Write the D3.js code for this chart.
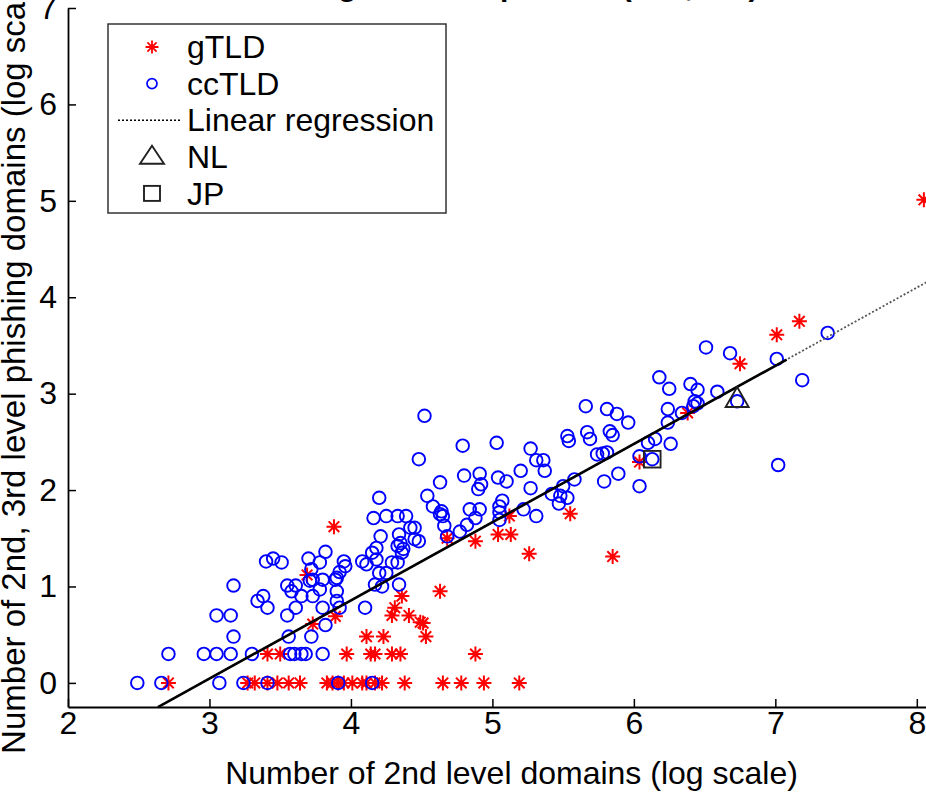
<!DOCTYPE html>
<html><head><meta charset="utf-8">
<script src="https://cdn.jsdelivr.net/npm/d3@7"></script>
<style>
body{margin:0;background:#fff}
svg{display:block}
text{font-family:"Liberation Sans",Arial,Helvetica,sans-serif;fill:#000}
</style>
</head><body>
<svg id="chart" width="926" height="792"></svg>
<script>
// ---------- data ----------
const xTicks = [2,3,4,5,6,7,8];
const yTicks = [0,1,2,3,4,5,6,7];
const titleText = "Registrations per TLD (2nd, 3rd)";
const xLabel = "Number of 2nd level domains (log scale)";
const yLabel = "Number of 2nd, 3rd level phishing domains (log scale)";
const legendLabels = ["gTLD","ccTLD","Linear regression","NL","JP"];

// gTLD (red stars)
const gX = [2.71,3.27,3.32,3.41,3.48,3.56,3.64,3.83,3.87,3.91,3.95,4.01,4.08,4.11,4.17,4.22,4.38,4.65,4.78,4.94,5.19,
  3.41,3.50,3.97,4.14,4.17,4.29,4.35,4.88,
  4.11,4.23,4.53,
  3.88,3.69,4.36,4.31,4.29,4.41,4.49,4.51,3.89,3.73,4.63,4.68,4.88,5.04,5.13,5.12,5.26,5.55,5.85,6.04,6.38,6.75,7.01,7.17,8.05];
const gY = [0,0,0,0,0,0,0,0,0,0,0,0,0,0,0,0,0,0,0,0,0,
  0.30,0.30,0.30,0.30,0.30,0.30,0.30,0.30,
  0.48,0.48,0.48,
  1.62,1.12,0.90,0.78,0.70,0.70,0.63,0.62,0.69,0.61,0.95,1.50,1.47,1.54,1.54,1.73,1.34,1.755,1.31,2.29,2.80,3.31,3.61,3.75,5.01];

// ccTLD (blue circles)
const ccX = [2.49,2.66,3.07,3.24,3.41,3.91,4.15,
  2.71,2.96,3.05,3.15,3.30,3.57,3.60,3.65,3.68,3.80,
  3.17,3.56,3.72, 3.82, 3.05,3.15,3.55,
  3.41,3.61,3.80,3.92,4.10, 3.34,3.90, 3.65,3.73,3.38, 3.58,3.90, 3.78,
  3.17,3.55,3.61,4.22,4.17,4.34, 3.73,3.80,3.89,3.71, 3.90, 3.92,4.20,4.25, 3.72, 3.96, 4.11,
  3.51,3.78,4.29,4.33, 3.40,3.95,4.08, 3.45,3.70, 4.18, 4.15,4.36, 3.82, 4.37, 4.18, 4.33, 4.35,
  4.45,4.48, 4.68, 4.21, 4.34, 4.77, 4.42,4.45, 4.66, 4.82, 5.05, 4.88, 4.16,
  4.25,4.33,4.39,4.65,5.31, 4.63, 5.05, 4.64, 4.84,4.91,5.22, 4.58,5.05, 5.47, 5.07,
  4.20,5.53, 4.54,5.48, 5.42, 4.90, 5.27, 5.50,6.04, 4.92, 4.63, 5.10,5.79, 5.58, 5.04, 4.80,
  4.91,5.89, 5.20,5.37, 7.02, 5.31,5.36, 4.48,6.13, 6.04, 5.74,5.78,5.81, 5.27, 4.79, 6.26,
  5.03,6.10, 5.54, 5.69,6.15, 5.53, 5.85, 5.67, 5.83, 5.96,6.24, 4.52, 5.88, 6.34, 5.81,6.24,
  5.66,6.42, 6.45, 6.43,6.73, 6.59, 6.45, 6.25, 6.40, 7.19, 6.18, 7.01, 6.68, 6.51, 7.37];
const ccY = [0,0,0,0,0,0,0,
  0.30,0.30,0.30,0.30,0.30,0.30,0.30,0.30,0.30,0.30,
  0.48,0.48,0.48, 0.60, 0.70,0.70,0.70,
  0.78,0.78,0.78,0.78,0.78, 0.85,0.85, 0.90,0.90,0.90, 0.95,0.95, 0.97,
  1.01,1.01,1.01,1.00,1.02,1.02, 1.07,1.07,1.07,1.06, 1.09, 1.15,1.14,1.14, 1.18, 1.21, 1.23,
  1.25,1.25,1.25,1.25, 1.26,1.26,1.26, 1.29,1.29, 1.28, 1.35,1.35, 1.36, 1.39, 1.40, 1.42, 1.45,
  1.49,1.47, 1.52, 1.52, 1.54, 1.57, 1.61,1.61, 1.63, 1.64, 1.69, 1.71, 1.71,
  1.73,1.73,1.73,1.73,1.73, 1.75, 1.77, 1.78, 1.80,1.80,1.80, 1.83,1.83, 1.86, 1.89,
  1.92,1.92, 1.94,1.94, 1.96, 2.01, 2.02, 2.04,2.04, 2.06, 2.08, 2.09,2.09, 2.11, 2.13, 2.15,
  2.17,2.17, 2.20,2.20, 2.26, 2.31,2.31, 2.32,2.32, 2.35, 2.37,2.38,2.39, 2.43, 2.46, 2.48,
  2.49,2.49, 2.51, 2.53,2.53, 2.56, 2.57, 2.60, 2.61, 2.70,2.70, 2.77, 2.79, 2.80, 2.84,2.84,
  2.87,2.87, 2.90, 2.92,2.92, 3.02, 3.04, 3.05, 3.10, 3.14, 3.17, 3.36, 3.42, 3.48, 3.63];

// regression line parameters and extents
const regSlope = 0.811, regIntercept = -2.388;
const regSolidX = [2.636, 7.08];
const regDotX = [2.636, 8.2];
// highlighted countries
const nlPoint = {x: 6.73, y: 2.93};
const jpPoint = {x: 6.13, y: 2.32};

// ---------- layout ----------
const svg = d3.select("#chart");
const x = d3.scaleLinear().domain([2, 8.27]).range([68, 955]);
const y = d3.scaleLinear().domain([-0.25, 7]).range([707, 8]);
const FS = 32;

// title (mostly cropped at top, as in the reference)
svg.append("text").attr("x", 300).attr("y", -4)
  .attr("font-size", 30).attr("font-weight", "bold").text(titleText);

// axes
const xAxis = d3.axisBottom(x).tickValues(xTicks).tickFormat(d3.format("d"))
  .tickSizeInner(-8).tickSizeOuter(0).tickPadding(4);
const yAxis = d3.axisLeft(y).tickValues(yTicks).tickFormat(d3.format("d"))
  .tickSizeInner(-8).tickSizeOuter(0).tickPadding(11);

const gx = svg.append("g").attr("transform", `translate(0,${y(-0.25)})`).call(xAxis);
const gy = svg.append("g").attr("transform", `translate(${x(2)},0)`).call(yAxis);
[gx, gy].forEach(g => {
  g.selectAll("text").attr("font-size", FS).attr("font-family", "'Liberation Sans',Arial,sans-serif").attr("fill", "#000");
  g.selectAll("line").attr("stroke", "#000").attr("stroke-width", 1.5);
  g.select(".domain").attr("stroke", "#000").attr("stroke-width", 1.8);
});

// axis labels
svg.append("text").attr("x", (x.range()[0] + x.range()[1]) / 2).attr("y", 784)
  .attr("text-anchor", "middle").attr("font-size", FS).text(xLabel);
svg.append("text")
  .attr("transform", `translate(25,${(y.range()[0] + y.range()[1]) / 2 + 2}) rotate(-90)`)
  .attr("text-anchor", "middle").attr("font-size", 33).text(yLabel);

// star path generator (MATLAB '*')
function starPath(r) {
  let p = "";
  for (let k = 0; k < 4; k++) {
    const a = k * Math.PI / 4;
    const dx = r * Math.cos(a), dy = r * Math.sin(a);
    p += `M${-dx},${-dy}L${dx},${dy}`;
  }
  return p;
}

// gTLD stars
const gData = gX.map((v, i) => ({x: v, y: gY[i]}));
svg.append("g").selectAll("path").data(gData).join("path")
  .attr("transform", d => `translate(${x(d.x)},${y(d.y)})`)
  .attr("d", starPath(7.5))
  .attr("stroke", "#ff0000").attr("stroke-width", 2).attr("fill", "none");

// ccTLD circles
const cData = ccX.map((v, i) => ({x: v, y: ccY[i]}));
svg.append("g").selectAll("circle").data(cData).join("circle")
  .attr("cx", d => x(d.x)).attr("cy", d => y(d.y)).attr("r", 6.3)
  .attr("fill", "none").attr("stroke", "#0000ff").attr("stroke-width", 1.9);

// regression lines
const regY = v => regSlope * v + regIntercept;
svg.append("line")
  .attr("x1", x(regDotX[0])).attr("y1", y(regY(regDotX[0])))
  .attr("x2", x(regDotX[1])).attr("y2", y(regY(regDotX[1])))
  .attr("stroke", "#555").attr("stroke-width", 1.8).attr("stroke-dasharray", "2,2");
svg.append("line")
  .attr("x1", x(regSolidX[0])).attr("y1", y(regY(regSolidX[0])))
  .attr("x2", x(regSolidX[1])).attr("y2", y(regY(regSolidX[1])))
  .attr("stroke", "#000").attr("stroke-width", 2.6);

// NL triangle & JP square
const triPath = (w, h) => `M0,${-h * 2 / 3}L${w / 2},${h / 3}L${-w / 2},${h / 3}Z`;
svg.append("path").attr("transform", `translate(${x(nlPoint.x)},${y(nlPoint.y)})`)
  .attr("d", triPath(23, 20)).attr("fill", "none").attr("stroke", "#222").attr("stroke-width", 1.9);
svg.append("rect").attr("x", x(jpPoint.x) - 8.3).attr("y", y(jpPoint.y) - 8.3)
  .attr("width", 16.6).attr("height", 16.6)
  .attr("fill", "none").attr("stroke", "#222").attr("stroke-width", 1.9);

// legend
const lg = svg.append("g");
lg.append("rect").attr("x", 108).attr("y", 24).attr("width", 338).attr("height", 189)
  .attr("fill", "#fff").attr("stroke", "#333").attr("stroke-width", 1.5);
const rowY = i => 47 + i * 36.6;
legendLabels.forEach((lab, i) => {
  lg.append("text").attr("x", 187).attr("y", rowY(i)).attr("dy", "0.35em")
    .attr("font-size", FS).text(lab);
});
lg.append("path").attr("transform", `translate(152,${rowY(0)})`).attr("d", starPath(6.5))
  .attr("stroke", "#ff0000").attr("stroke-width", 1.8).attr("fill", "none");
lg.append("circle").attr("cx", 152).attr("cy", rowY(1)).attr("r", 5)
  .attr("fill", "none").attr("stroke", "#0000ff").attr("stroke-width", 1.7);
lg.append("line").attr("x1", 118).attr("x2", 181).attr("y1", rowY(2)).attr("y2", rowY(2))
  .attr("stroke", "#000").attr("stroke-width", 1.4).attr("stroke-dasharray", "2,2");
lg.append("path").attr("transform", `translate(152,${rowY(3) + 1})`).attr("d", triPath(24, 18))
  .attr("fill", "none").attr("stroke", "#222").attr("stroke-width", 1.9);
lg.append("rect").attr("x", 144).attr("y", rowY(4) - 7.5).attr("width", 16).attr("height", 15)
  .attr("fill", "none").attr("stroke", "#222").attr("stroke-width", 1.9);
</script>
</body></html>
